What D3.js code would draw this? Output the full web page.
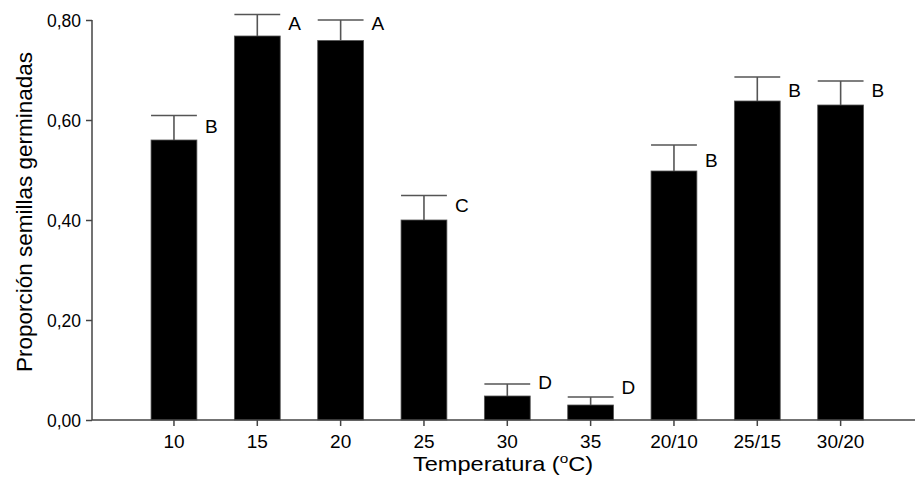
<!DOCTYPE html>
<html>
<head>
<meta charset="utf-8">
<script src="https://cdn.jsdelivr.net/npm/d3@7"></script>
<style>
  body { margin: 0; background: #fff; }
  text { font-family: "Liberation Sans", Arial, sans-serif; fill: #000; }
</style>
</head>
<body>
<svg id="chart" width="915" height="482"></svg>
<script>
// Дані графіка
const categories = ["10", "15", "20", "25", "30", "35", "20/10", "25/15", "30/20"];
const values = [0.56, 0.768, 0.759, 0.40, 0.048, 0.03, 0.498, 0.638, 0.63];
const errTop = [0.609, 0.811, 0.80, 0.449, 0.072, 0.046, 0.55, 0.686, 0.678];
const letters = ["B", "A", "A", "C", "D", "D", "B", "B", "B"];
const letterAt = [0.574, 0.781, 0.781, 0.417, 0.062, 0.052, 0.507, 0.646, 0.646];
const yTicks = [0, 0.2, 0.4, 0.6, 0.8];

const svg = d3.select("#chart");
const axisX = 92;
const y0 = 420;

const xScale = d3.scaleBand()
  .domain(categories)
  .range([132.3, 882.3])
  .paddingInner(0.45)
  .paddingOuter(0.225);

const yScale = d3.scaleLinear().domain([0, 0.8]).range([y0, 20]);

const fmt = (d) => d3.format(".2f")(d).replace(".", ",");

// Бари
svg.append("g")
  .selectAll("rect")
  .data(categories)
  .join("rect")
  .attr("x", (d) => xScale(d))
  .attr("y", (d, i) => yScale(values[i]))
  .attr("width", xScale.bandwidth())
  .attr("height", (d, i) => yScale(0) - yScale(values[i]))
  .attr("fill", "#000")
  .attr("stroke", "#555")
  .attr("stroke-width", 0.8);

// Планки похибок (тільки вгору)
const err = svg.append("g").attr("stroke", "#555").attr("stroke-width", 1.6);
categories.forEach((c, i) => {
  const cx = xScale(c) + xScale.bandwidth() / 2;
  err.append("line")
    .attr("x1", cx).attr("x2", cx)
    .attr("y1", yScale(values[i])).attr("y2", yScale(errTop[i]));
  err.append("line")
    .attr("x1", xScale(c)).attr("x2", xScale(c) + xScale.bandwidth())
    .attr("y1", yScale(errTop[i])).attr("y2", yScale(errTop[i]));
});

// Літери значущості
svg.append("g")
  .selectAll("text")
  .data(categories)
  .join("text")
  .attr("x", (d) => xScale(d) + xScale.bandwidth() + 8)
  .attr("y", (d, i) => yScale(letterAt[i]))
  .attr("font-size", 19)
  .text((d, i) => letters[i]);

// Осі
const yAxis = d3.axisLeft(yScale).tickValues(yTicks).tickFormat(fmt).tickSize(6).tickPadding(5);
const yg = svg.append("g").attr("transform", `translate(${axisX},0)`).call(yAxis);
yg.select(".domain").remove();
yg.selectAll("line").attr("stroke", "#444").attr("stroke-width", 1.5);
yg.selectAll("text").attr("font-size", 17.5).attr("font-family", "Liberation Sans, Arial, sans-serif").attr("dy", "0.36em");
yg.append("line").attr("x1", 0).attr("x2", 0).attr("y1", yScale(0.8)).attr("y2", y0)
  .attr("stroke", "#444").attr("stroke-width", 1.5);

const xAxis = d3.axisBottom(xScale).tickSize(6).tickPadding(9);
const xg = svg.append("g").attr("transform", `translate(0,${y0})`).call(xAxis);
xg.select(".domain").remove();
xg.selectAll("line").attr("stroke", "#444").attr("stroke-width", 1.5);
xg.selectAll("text").attr("font-size", 19).attr("font-family", "Liberation Sans, Arial, sans-serif");
xg.append("line").attr("x1", axisX).attr("x2", 918).attr("y1", 0).attr("y2", 0)
  .attr("stroke", "#444").attr("stroke-width", 1.5);

// Підписи осей
const xt = svg.append("text")
  .attr("transform", "translate(503,471) scale(1.18,1)")
  .attr("text-anchor", "middle")
  .attr("font-size", 20);
xt.append("tspan").text("Temperatura (");
xt.append("tspan").attr("font-size", 13).attr("dy", -8).text("o");
xt.append("tspan").attr("dy", 8).text("C)");

svg.append("text")
  .attr("transform", "translate(32,212) rotate(-90)")
  .attr("text-anchor", "middle")
  .attr("font-size", 22.5)
  .text("Proporción semillas germinadas");
</script>
</body>
</html>
